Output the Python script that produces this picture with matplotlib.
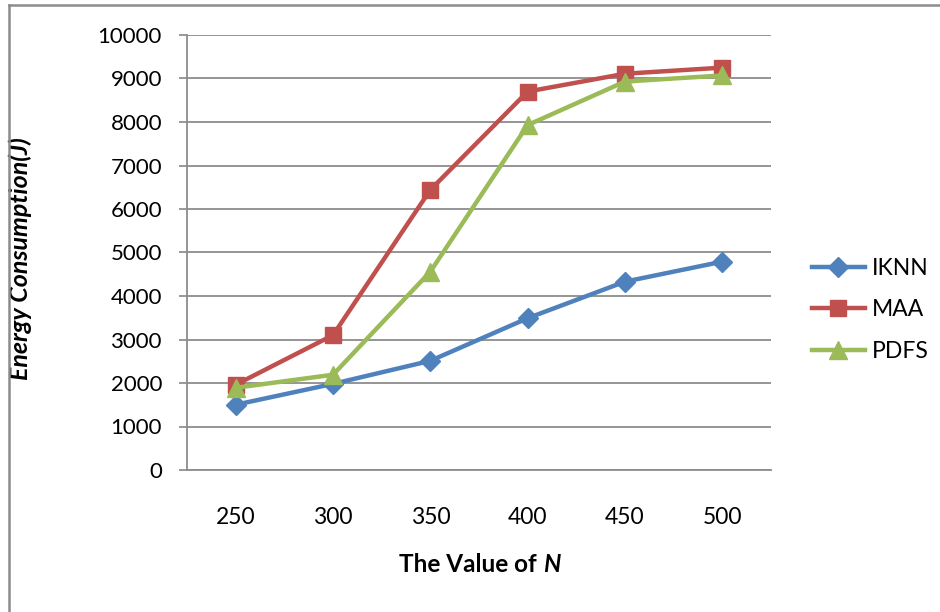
import matplotlib
matplotlib.use("Agg")
import matplotlib.pyplot as plt
from matplotlib.lines import Line2D

# values
n_values = ["250", "300", "350", "400", "450", "500"]
iknn = [1500, 1980, 2510, 3490, 4330, 4790]
maa = [1960, 3100, 6440, 8700, 9110, 9250]
pdfs = [1890, 2190, 4560, 7930, 8930, 9070]
y_ticks = list(range(0, 10001, 1000))

plt.rcParams['font.family'] = ['Lato', 'DejaVu Sans']

fig = plt.figure(figsize=(9.4, 6.12), dpi=100)
ax = fig.add_axes([187 / 940, 1 - 470 / 612, (771 - 187) / 940, (470 - 35) / 612])

x = list(range(len(n_values)))
ax.plot(x, iknn, color="#4F81BD", lw=3.2, marker="D", ms=10, label="IKNN")
ax.plot(x, maa, color="#C0504D", lw=3.2, marker="s", ms=12, label="MAA")
ax.plot(x, pdfs, color="#9BBB59", lw=3.2, marker="^", ms=13, label="PDFS")

ax.set_xlim(-0.5, len(n_values) - 0.5)
ax.set_ylim(0, 10000)
ax.set_xticks(x)
ax.set_xticklabels(n_values)
ax.set_yticks(y_ticks)
ax.tick_params(axis="x", length=0, pad=27, labelsize=16.5)
ax.tick_params(axis="y", length=6, width=1.2, color="#888888", labelsize=16, pad=12)

ax.grid(axis="y", color="#8c8c8c", lw=1.3)
ax.set_axisbelow(True)
for side in ("top", "right"):
    ax.spines[side].set_visible(False)
for side in ("left", "bottom"):
    ax.spines[side].set_color("#8c8c8c")
    ax.spines[side].set_linewidth(1.3)

ax.set_ylabel("Energy Consumption(J)", fontsize=18, fontweight="bold",
              style="italic")
ax.yaxis.set_label_coords(-0.265, 0.485)

fig.text(543 / 940, 1 - 565 / 612, "The Value of ", ha="right", va="center",
         fontsize=17.5, fontweight="bold")
fig.text(543 / 940, 1 - 565 / 612, "N", ha="left", va="center",
         fontsize=17.5, fontweight="bold", style="italic")

ax.legend(loc="center left", bbox_to_anchor=(1.07, 0.368), frameon=False,
          fontsize=16.5, handlelength=2.3, labelspacing=0.9, handletextpad=0.3,
          borderpad=0, borderaxespad=0)

# outer chart frame (left and top edges visible)
fig.add_artist(Line2D([9 / 940, 9 / 940], [0, 1 - 5 / 612], color="#8c8c8c", lw=1.8))
fig.add_artist(Line2D([9 / 940, 1], [1 - 5 / 612, 1 - 5 / 612], color="#8c8c8c", lw=1.8))

fig.savefig("out.png", dpi=100)
